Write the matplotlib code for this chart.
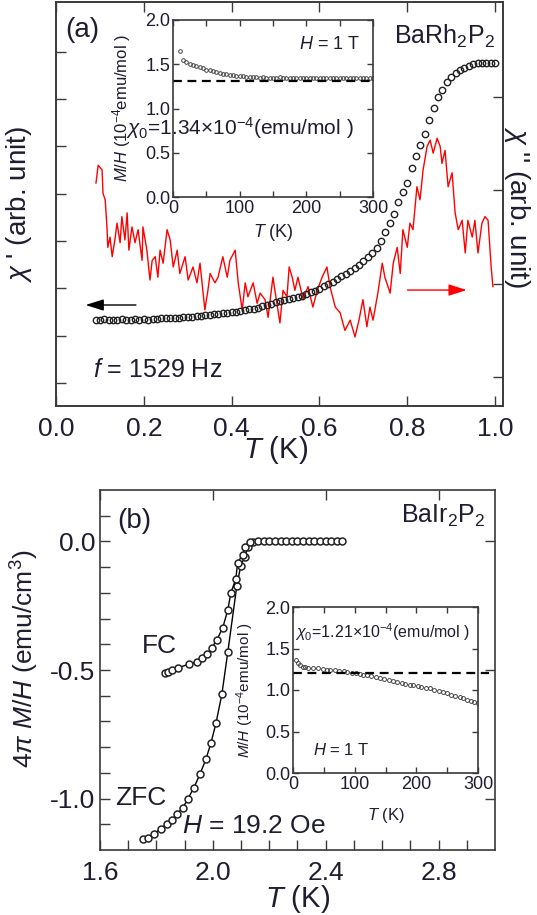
import matplotlib
matplotlib.use("Agg")
import matplotlib.pyplot as plt
import numpy as np

plt.rcParams['font.family'] = ['Liberation Sans', 'DejaVu Sans']
plt.rcParams['mathtext.fontset'] = 'custom'
plt.rcParams['mathtext.rm'] = 'Liberation Sans'
plt.rcParams['mathtext.it'] = 'Liberation Sans:italic'
plt.rcParams['mathtext.bf'] = 'Liberation Sans:bold'
plt.rcParams['axes.unicode_minus'] = False

TXT = '#1e1e30'
AX = '#3a3a3a'

# ---- panel (a): chi' (left axis, arb. unit) ----
t_chi1 = [0.09, 0.10, 0.11, 0.12, 0.13, 0.14, 0.15, 0.16, 0.17, 0.18, 0.19, 0.20,
          0.21, 0.22, 0.23, 0.24, 0.25, 0.26, 0.27, 0.28, 0.29, 0.30, 0.31, 0.32,
          0.33, 0.34, 0.35, 0.36, 0.37, 0.38, 0.39, 0.40, 0.41, 0.42, 0.43, 0.44,
          0.45, 0.46, 0.47, 0.48, 0.49, 0.50, 0.51, 0.52, 0.53, 0.54, 0.55, 0.56,
          0.57, 0.58, 0.59, 0.60, 0.61, 0.62, 0.63, 0.64, 0.65, 0.66, 0.67, 0.68,
          0.69, 0.70, 0.71, 0.72, 0.73, 0.74, 0.75, 0.76, 0.77, 0.78, 0.79, 0.80,
          0.81, 0.82, 0.83, 0.84, 0.85, 0.86, 0.87, 0.88, 0.89, 0.90, 0.91, 0.92,
          0.93, 0.94, 0.95, 0.96, 0.97, 0.98, 0.99, 1.00]
chi1 = [2.33, 2.32, 2.34, 2.33, 2.32, 2.33, 2.34, 2.33, 2.33, 2.34, 2.33, 2.34,
        2.33, 2.35, 2.35, 2.36, 2.36, 2.37, 2.37, 2.38, 2.39, 2.40, 2.40, 2.41,
        2.42, 2.43, 2.44, 2.45, 2.46, 2.47, 2.48, 2.49, 2.50, 2.52, 2.53, 2.55,
        2.57, 2.59, 2.62, 2.64, 2.67, 2.70, 2.73, 2.76, 2.78, 2.80, 2.82, 2.84,
        2.87, 2.91, 2.95, 2.99, 3.04, 3.09, 3.14, 3.19, 3.25, 3.30, 3.36, 3.42,
        3.49, 3.57, 3.66, 3.75, 3.85, 3.99, 4.18, 4.37, 4.57, 4.83, 5.03, 5.23,
        5.55, 5.80, 6.02, 6.26, 6.56, 6.80, 7.05, 7.20, 7.36, 7.46, 7.55, 7.61,
        7.66, 7.70, 7.73, 7.75, 7.76, 7.77, 7.76, 7.76]

# ---- panel (a): chi'' (right axis, arb. unit) ----
t_chi2 = [0.091, 0.096, 0.105, 0.107, 0.112, 0.116, 0.118, 0.123, 0.128, 0.134, 0.139,
          0.146, 0.150, 0.157, 0.162, 0.166, 0.173, 0.180, 0.187, 0.196, 0.198, 0.207,
          0.214, 0.219, 0.226, 0.232, 0.237, 0.244, 0.253, 0.260, 0.267, 0.276, 0.282,
          0.294, 0.301, 0.312, 0.321, 0.328, 0.339, 0.346, 0.351, 0.362, 0.369, 0.380,
          0.390, 0.396, 0.408, 0.415, 0.424, 0.431, 0.437, 0.449, 0.458, 0.465, 0.476,
          0.483, 0.494, 0.503, 0.510, 0.517, 0.526, 0.531, 0.538, 0.544, 0.551, 0.563,
          0.574, 0.585, 0.595, 0.606, 0.617, 0.624, 0.636, 0.647, 0.658, 0.670, 0.681,
          0.690, 0.699, 0.708, 0.715, 0.722, 0.733, 0.743, 0.749, 0.761, 0.768, 0.777,
          0.784, 0.790, 0.800, 0.806, 0.813, 0.822, 0.829, 0.836, 0.845, 0.852, 0.859,
          0.868, 0.875, 0.879, 0.886, 0.893, 0.902, 0.909, 0.916, 0.925, 0.932, 0.938,
          0.948, 0.954, 0.961, 0.970, 0.977, 0.984, 0.991, 0.995]
chi2 = [3.08, 3.27, 3.22, 2.97, 2.90, 2.61, 2.39, 2.50, 2.29, 2.47, 2.65,
        2.44, 2.72, 2.47, 2.76, 2.36, 2.61, 2.44, 2.58, 2.25, 2.61, 2.36,
        2.04, 2.25, 2.29, 2.07, 2.36, 2.22, 2.58, 2.47, 2.18, 2.36, 2.11,
        2.29, 2.04, 2.18, 2.01, 2.22, 1.72, 1.93, 2.11, 2.01, 2.07, 2.29,
        2.07, 2.25, 2.36, 2.01, 1.72, 2.01, 1.86, 2.01, 1.79, 1.90, 1.83,
        1.64, 2.07, 1.79, 1.58, 1.93, 1.86, 2.18, 2.07, 1.93, 2.07, 1.83,
        1.97, 1.75, 1.93, 2.07, 2.18, 1.97, 1.75, 1.69, 1.50, 1.61, 1.43,
        1.61, 1.83, 1.54, 1.75, 1.61, 1.90, 2.22, 2.07, 1.90, 2.22, 2.39,
        2.11, 2.58, 2.39, 2.65, 2.58, 3.04, 2.90, 3.22, 3.47, 3.54, 3.40,
        3.56, 3.47, 3.29, 3.43, 3.04, 3.19, 2.76, 2.58, 2.68, 2.33, 2.68,
        2.50, 2.68, 2.33, 2.65, 2.72, 2.68, 2.18, 1.97]

# ---- inset (a): M/H of BaRh2P2, H = 1 T ----
t_ins_a = [10, 15, 20, 25, 30, 35, 40, 45, 50, 55, 60, 65, 70, 75, 80, 85, 90, 95,
           100, 105, 110, 115, 120, 125, 130, 135, 140, 145, 150, 155, 160, 165, 170,
           175, 180, 185, 190, 195, 200, 205, 210, 215, 220, 225, 230, 235, 240, 245,
           250, 255, 260, 265, 270, 275, 280, 285, 290, 295, 300]
mh_ins_a = [1.65, 1.55, 1.52, 1.50, 1.49, 1.48, 1.47, 1.46, 1.44, 1.43, 1.42, 1.41, 1.40,
            1.39, 1.39, 1.38, 1.38, 1.37, 1.37, 1.37, 1.36, 1.36, 1.36, 1.36, 1.35, 1.36,
            1.35, 1.35, 1.35, 1.35, 1.36, 1.35, 1.35, 1.35, 1.35, 1.34, 1.35, 1.35, 1.35,
            1.34, 1.35, 1.35, 1.35, 1.34, 1.35, 1.35, 1.34, 1.35, 1.35, 1.34, 1.35, 1.35,
            1.34, 1.35, 1.35, 1.34, 1.35, 1.35, 1.34]
chi0_a = 1.31

# ---- panel (b): BaIr2P2, H = 19.2 Oe ----
t_zfc = [1.752, 1.770, 1.791, 1.816, 1.837, 1.855, 1.873, 1.894, 1.912, 1.933, 1.954,
         1.975, 1.993, 2.011, 2.032, 2.053, 2.085, 2.099, 2.113, 2.124, 2.142, 2.160,
         2.180, 2.200, 2.220, 2.240, 2.260, 2.280, 2.300, 2.320, 2.340, 2.360, 2.380,
         2.400, 2.420, 2.440, 2.457]
m_zfc = [-1.156, -1.152, -1.137, -1.117, -1.098, -1.082, -1.059, -1.035, -1.000, -0.957,
         -0.906, -0.848, -0.785, -0.707, -0.594, -0.430, -0.172, -0.094, -0.059, -0.023,
         -0.004, 0.0, 0.0, 0.0, 0.0, 0.0, 0.0, 0.0, 0.0, 0.0, 0.0, 0.0, 0.0, 0.0, 0.0,
         0.0, 0.0]
t_fc = [1.832, 1.840, 1.855, 1.876, 1.915, 1.943, 1.961, 1.979, 1.996, 2.014, 2.035,
        2.053, 2.064, 2.081, 2.088, 2.106, 2.113, 2.131]
m_fc = [-0.512, -0.508, -0.500, -0.492, -0.477, -0.469, -0.453, -0.438, -0.414, -0.383,
        -0.336, -0.266, -0.199, -0.148, -0.082, -0.051, -0.023, -0.004]

# ---- inset (b): M/H of BaIr2P2, H = 1 T ----
t_ins_b = [5, 8, 12, 16, 20, 25, 32, 40, 48, 55, 60, 68, 75, 82, 88, 95, 102, 108, 114,
           120, 127, 134, 141, 148, 155, 162, 169, 176, 182, 189, 195, 202, 208, 215,
           222, 229, 236, 243, 250, 257, 263, 270, 276, 282, 288, 294, 300]
mh_ins_b = [1.36, 1.33, 1.30, 1.28, 1.28, 1.27, 1.265, 1.26, 1.25, 1.245, 1.24, 1.235,
            1.23, 1.225, 1.22, 1.21, 1.20, 1.19, 1.18, 1.175, 1.165, 1.155, 1.14, 1.13,
            1.12, 1.11, 1.10, 1.09, 1.075, 1.065, 1.06, 1.05, 1.04, 1.03, 1.02, 1.00,
            0.99, 0.975, 0.96, 0.945, 0.93, 0.915, 0.90, 0.885, 0.87, 0.855, 0.845]
chi0_b = 1.21

W, H = 537, 915
fig = plt.figure(figsize=(W / 100, H / 100), dpi=100)


def frame(ax, size=19):
    ax.tick_params(direction='in', which='both', colors=AX, labelcolor=TXT,
                   labelsize=size, width=1.0)
    ax.tick_params(which='major', length=7)
    ax.tick_params(which='minor', length=7)
    for s in ax.spines.values():
        s.set_color(AX)
        s.set_linewidth(1.2)


# ================= panel (a) =================
ax_a = fig.add_axes([56 / W, 1 - 406 / H, 447 / W, 404 / H])
ax_a2 = ax_a.twinx()
frame(ax_a)
frame(ax_a2)
ax_a.set_xlim(0, 1.018)
ax_a.set_ylim(0.51, 9.05)
ax_a2.set_ylim(0.69, 5.02)
ax_a.set_xticks([0.0, 0.2, 0.4, 0.6, 0.8, 1.0])
ax_a.set_xticklabels(['0.0', '0.2', '0.4', '0.6', '0.8', '1.0'])
ax_a.set_yticks([1, 2, 3, 4, 5, 6, 7, 8])
ax_a.set_yticklabels([])
ax_a2.set_yticks([1, 2, 3, 4])
ax_a2.set_yticklabels([])
ax_a.tick_params(top=True, labeltop=False)
ax_a.tick_params(axis='x', pad=8)

ax_a2.plot(t_chi2, chi2, color='#ff0000', lw=1.0, zorder=2)
ax_a.plot(t_chi1, chi1, 'o', ms=4.6, mfc='none', mec='#222222', mew=1.0, zorder=3)
ax_a.set_zorder(ax_a2.get_zorder() + 1)
ax_a.patch.set_visible(False)

ax_a.set_xlabel('$T$ (K)', fontsize=21, color=TXT)
ax_a.xaxis.set_label_coords(0.49, -0.07)
ax_a.set_ylabel("$\\chi$ ' (arb. unit)", fontsize=20, color=TXT)
ax_a.yaxis.set_label_coords(-0.05, 0.5)
ax_a2.set_ylabel("$\\chi$ '' (arb. unit)", fontsize=20, color=TXT, rotation=270)
ax_a2.yaxis.set_label_coords(1.065, 0.493)

ax_a.text(0.02, 0.93, '(a)', transform=ax_a.transAxes, fontsize=20, color=TXT,
          va='center', ha='left')
ax_a.text(0.982, 0.948, 'BaRh$_2$P$_2$', transform=ax_a.transAxes, fontsize=18,
          color=TXT, va='top', ha='right')
ax_a.text(0.083, 0.089, '$f$ = 1529 Hz', transform=ax_a.transAxes, fontsize=18,
          color=TXT, va='center', ha='left')
ax_a.annotate('', xy=(0.06, 0.25), xytext=(0.185, 0.25), xycoords='axes fraction',
              arrowprops=dict(arrowstyle='-|>,head_length=1.1,head_width=0.35',
                              color='black', lw=1.0))
ax_a.annotate('', xy=(0.925, 0.287), xytext=(0.78, 0.287), xycoords='axes fraction',
              arrowprops=dict(arrowstyle='-|>,head_length=1.1,head_width=0.35',
                              color='#ff0000', lw=1.0))

# ---- inset (a) ----
ins_a = fig.add_axes([173 / W, 1 - 197 / H, 200 / W, 177 / H])
frame(ins_a, size=13)
ins_a.tick_params(which='both', length=4, top=True, right=True)
ins_a.set_xlim(0, 300)
ins_a.set_ylim(0, 2.0)
ins_a.set_xticks([0, 100, 200, 300])
ins_a.set_xticks([50, 150, 250], minor=True)
ins_a.set_yticks([0.0, 0.5, 1.0, 1.5, 2.0])
ins_a.set_yticklabels(['0.0', '0.5', '1.0', '1.5', '2.0'])
ins_a.tick_params(axis='both', pad=2)
ins_a.plot(t_ins_a, mh_ins_a, 'o', ms=2.6, mfc='none', mec='#444444', mew=0.7)
ins_a.plot([0, 300], [chi0_a, chi0_a], '--', color='black', lw=1.6, dashes=(4, 2.5))
ins_a.set_xlabel('$T$ (K)', fontsize=13, color=TXT)
ins_a.xaxis.set_label_coords(0.5, -0.14)
ins_a.set_ylabel('$M/H$ (10$^{-4}$emu/mol )', fontsize=12, color=TXT)
ins_a.yaxis.set_label_coords(-0.2, 0.5)
ins_a.text(0.935, 0.859, '$H$ = 1 T', transform=ins_a.transAxes, fontsize=13,
           color=TXT, ha='right', va='center')
ins_a.text(-0.235, 0.39, '$\\chi_0$=1.34×10$^{-4}$(emu/mol )', transform=ins_a.transAxes,
           fontsize=15, color=TXT, ha='left', va='center')

# ================= panel (b) =================
ax_b = fig.add_axes([100 / W, 1 - 850 / H, 395 / W, 360 / H])
frame(ax_b)
ax_b.tick_params(top=True, right=True, labeltop=False, labelright=False)
ax_b.tick_params(axis='x', pad=8)
ax_b.set_xlim(1.6, 3.0)
ax_b.set_ylim(-1.2, 0.2)
ax_b.set_xticks([1.6, 2.0, 2.4, 2.8])
ax_b.set_xticklabels(['1.6', '2.0', '2.4', '2.8'])
ax_b.set_xticks([1.7, 1.8, 1.9, 2.1, 2.2, 2.3, 2.5, 2.6, 2.7, 2.9], minor=True)
ax_b.set_yticks([0.0, -0.5, -1.0])
ax_b.set_yticklabels(['0.0', '-0.5', '-1.0'])
ax_b.set_yticks([0.1, -0.1, -0.2, -0.3, -0.4, -0.6, -0.7, -0.8, -0.9, -1.1], minor=True)

ax_b.plot(t_zfc, m_zfc, '-o', color='black', lw=1.0, ms=5, mfc='white',
          mec='#222222', mew=1.1)
ax_b.plot(t_fc, m_fc, '-o', color='black', lw=1.0, ms=5, mfc='white',
          mec='#222222', mew=1.1)

ax_b.set_xlabel('$T$ (K)', fontsize=21, color=TXT)
ax_b.xaxis.set_label_coords(0.5, -0.092)
ax_b.set_ylabel('4$\\pi$ $M/H$ (emu/cm$^3$)', fontsize=19, color=TXT)
ax_b.yaxis.set_label_coords(-0.15, 0.53)
ax_b.text(0.043, 0.914, '(b)', transform=ax_b.transAxes, fontsize=20, color=TXT,
          va='center', ha='left')
ax_b.text(0.975, 0.964, 'BaIr$_2$P$_2$', transform=ax_b.transAxes, fontsize=18,
          color=TXT, va='top', ha='right')
ax_b.text(0.106, 0.567, 'FC', transform=ax_b.transAxes, fontsize=19, color=TXT,
          va='center', ha='left')
ax_b.text(0.038, 0.144, 'ZFC', transform=ax_b.transAxes, fontsize=19, color=TXT,
          va='center', ha='left')
ax_b.text(0.208, 0.067, '$H$ = 19.2 Oe', transform=ax_b.transAxes, fontsize=19,
          color=TXT, va='center', ha='left')

# ---- inset (b) ----
ins_b = fig.add_axes([293 / W, 1 - 773 / H, 185 / W, 166 / H])
frame(ins_b, size=13)
ins_b.tick_params(which='both', length=4, top=True, right=True)
ins_b.set_xlim(0, 300)
ins_b.set_ylim(0, 2.0)
ins_b.set_xticks([0, 100, 200, 300])
ins_b.set_xticks([50, 150, 250], minor=True)
ins_b.set_yticks([0.0, 0.5, 1.0, 1.5, 2.0])
ins_b.set_yticklabels(['0.0', '0.5', '1.0', '1.5', '2.0'])
ins_b.tick_params(axis='both', pad=2)
ins_b.plot(t_ins_b, mh_ins_b, 'o', ms=2.8, mfc='none', mec='#444444', mew=0.7)
ins_b.plot([0, 318], [chi0_b, chi0_b], '--', color='black', lw=1.6, dashes=(4, 2.5),
           clip_on=False)
ins_b.set_xlabel('$T$ (K)', fontsize=12, color=TXT)
ins_b.xaxis.set_label_coords(0.5, -0.2)
ins_b.set_ylabel('$M/H$ (10$^{-4}$emu/mol )', fontsize=11, color=TXT)
ins_b.yaxis.set_label_coords(-0.2, 0.5)
ins_b.text(0.01, 0.85, '$\\chi_0$=1.21×10$^{-4}$(emu/mol )', transform=ins_b.transAxes,
           fontsize=11.5, color=TXT, ha='left', va='center')
ins_b.text(0.108, 0.139, '$H$ = 1 T', transform=ins_b.transAxes, fontsize=12,
           color=TXT, ha='left', va='center')

fig.savefig('out.png', dpi=100)
